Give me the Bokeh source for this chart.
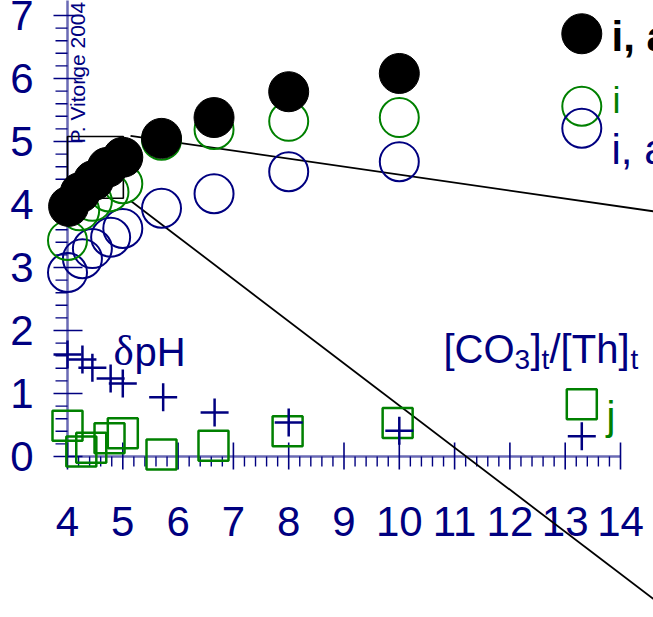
from bokeh.plotting import figure
from bokeh.models import Range1d
from bokeh.embed import file_html
from bokeh.resources import INLINE
from bokeh.core.properties import value
import numpy as np

# ---------------- data ----------------
x_black = [4.02, 4.23, 4.47, 4.72, 5.0, 5.7, 6.65, 8.0, 10.0]
y_black = [3.97, 4.19, 4.38, 4.59, 4.75, 5.05, 5.38, 5.79, 6.08]
x_green = [4.0, 4.22, 4.45, 4.75, 5.0, 5.7, 6.65, 8.0, 10.0]
y_green = [3.43, 3.90, 4.05, 4.20, 4.33, 5.02, 5.19, 5.32, 5.38]
x_blue = [4.0, 4.27, 4.45, 4.78, 5.0, 5.7, 6.65, 8.0, 10.0]
y_blue = [2.92, 3.14, 3.30, 3.48, 3.62, 3.94, 4.17, 4.52, 4.68]
x_dph = [4.0, 4.27, 4.45, 4.78, 5.0, 5.73, 6.66, 8.0, 10.0, 13.3]
y_dph = [1.62, 1.54, 1.41, 1.24, 1.16, 0.94, 0.70, 0.54, 0.41, 0.32]
x_j = [4.0, 4.25, 4.43, 4.76, 5.0, 5.7, 6.64, 7.98, 9.97, 13.3]
y_j = [0.49, 0.08, 0.14, 0.29, 0.37, 0.03, 0.17, 0.40, 0.53, 0.83]

# legend keys
legend_x = [13.3, 13.3, 13.3]
legend_y = [6.71, 5.56, 5.21]

# zoom box and magnifier lines (annotations)
box_x = [4.0, 5.01]
box_y = [4.10, 5.08]
line1_x = [5.14, 15.4]
line1_y = [5.09, 3.79]
line2_x = [5.14, 15.4]
line2_y = [4.06, -2.80]

x_ticks = list(range(4, 15))
y_ticks = list(range(0, 8))
x_tick_labels = [str(t) for t in x_ticks]
y_tick_labels = [str(t) for t in y_ticks]

# ---------------- geometry ----------------
W, H = 653, 617
PX, PY = 55.3, 63.0          # pixels per data unit
X0 = 4 - 67 / PX
Y1 = 456 / PY
X1 = X0 + W / PX
Y0 = Y1 - H / PY

NAVY = "#000080"
AXIS = "#6a6ab4"
GREEN = "#008000"
FONT = value("Liberation Sans")
SERIF = value("Liberation Serif")


def lx(px):
    return 4 + (px - 67) / PX


def ly(py):
    return (456 - py) / PY


p = figure(width=W, height=H, x_range=Range1d(X0, X1), y_range=Range1d(Y0, Y1),
           output_backend="svg", toolbar_location=None, min_border=0,
           x_axis_location=None, y_axis_location=None)
p.outline_line_color = None
p.background_fill_color = "white"
p.border_fill_color = "white"
p.grid.visible = False

# ---- hand-drawn axes ----
p.line([4, 14], [0, 0], line_color=AXIS, line_width=2.5)
p.line([4, 4], [0, Y1 + 1], line_color=AXIS, line_width=2.5)

xmin = [v for v in np.round(np.arange(4, 14.001, 0.2), 2) if abs(v - round(v)) > 1e-6]
ymin = [v for v in np.round(np.arange(0, 7.001, 0.2), 2) if abs(v - round(v)) > 1e-6]

p.segment(x0=x_ticks, y0=[14 / PY] * len(x_ticks), x1=x_ticks, y1=[-13 / PY] * len(x_ticks),
          line_color=NAVY, line_width=1.6)
p.segment(x0=xmin, y0=[0] * len(xmin), x1=xmin, y1=[-10 / PY] * len(xmin),
          line_color=NAVY, line_width=1.4)
p.segment(x0=[4 - 14 / PX] * len(y_ticks), y0=y_ticks, x1=[4 + 15 / PX] * len(y_ticks), y1=y_ticks,
          line_color=NAVY, line_width=1.6)
p.segment(x0=[4 - 12 / PX] * len(ymin), y0=ymin, x1=[4] * len(ymin), y1=ymin,
          line_color=NAVY, line_width=1.4)

p.text(x=x_ticks, y=[ly(521)] * len(x_ticks), text=x_tick_labels,
       text_font=FONT, text_font_size="42px", text_color=NAVY,
       text_align="center", text_baseline="middle")
p.text(x=[lx(33)] * len(y_ticks), y=y_ticks, text=y_tick_labels,
       text_font=FONT, text_font_size="42px", text_color=NAVY,
       text_align="right", text_baseline="middle")

# ---- annotations (box + lines) ----
p.quad(left=[box_x[0]], right=[box_x[1]], bottom=[box_y[0]], top=[box_y[1]],
       fill_color=None, line_color="black", line_width=1.6)
p.line(line1_x, line1_y, line_color="black", line_width=1.8)
p.line(line2_x, line2_y, line_color="black", line_width=1.8)

# author text
p.text(x=[lx(77)], y=[ly(143)], text=["P. Vitorge 2004"], angle=np.pi / 2,
       text_font=FONT, text_font_size="21px", text_color=NAVY,
       text_align="left", text_baseline="middle")

# ---- data markers ----
p.scatter(x_j, y_j, marker="square", size=30, fill_color=None, line_color=GREEN, line_width=2.5)
p.scatter(x_dph, y_dph, marker="cross", size=28, line_color=NAVY, line_width=2.5)
p.scatter(x_blue, y_blue, marker="circle", size=39, fill_color=None, line_color=NAVY, line_width=2)
p.scatter(x_green, y_green, marker="circle", size=39, fill_color=None, line_color=GREEN, line_width=2)
p.scatter(x_black, y_black, marker="circle", size=40, fill_color="black", line_color="black")

# ---- legend keys ----
p.scatter([legend_x[0]], [legend_y[0]], marker="circle", size=40, fill_color="black", line_color="black")
p.scatter([legend_x[1]], [legend_y[1]], marker="circle", size=39, fill_color=None, line_color=GREEN, line_width=2)
p.scatter([legend_x[2]], [legend_y[2]], marker="circle", size=39, fill_color=None, line_color=NAVY, line_width=2)

p.text(x=[lx(611)], y=[ly(36)], text=["i, aq"], text_font=FONT, text_font_size="42px",
       text_font_style="bold", text_color="black", text_baseline="middle")
p.text(x=[lx(612)], y=[ly(100)], text=["i"], text_font=FONT, text_font_size="36px",
       text_color=GREEN, text_baseline="middle")
p.text(x=[lx(611)], y=[ly(149)], text=["i, aq"], text_font=FONT, text_font_size="42px",
       text_color=NAVY, text_baseline="middle")

# δpH : serif delta followed by sans "pH"
p.text(x=[lx(113)], y=[ly(350)], text=["δ"], text_font=SERIF, text_font_size="43px",
       text_color=NAVY, text_baseline="middle")
p.text(x=[lx(134)], y=[ly(351)], text=["pH"], text_font=FONT, text_font_size="40px",
       text_color=NAVY, text_baseline="middle")
p.text(x=[lx(606)], y=[ly(415)], text=["j"], text_font=FONT, text_font_size="40px",
       text_color=GREEN, text_baseline="middle")

# [CO3]t/[Th]t composed of pieces (left edge px, visual centre px, size)
pieces = [("[CO", 443, 348, "40px"), ("3", 514, 359, "28px"), ("]", 530, 348, "40px"),
          ("t", 541, 359, "28px"), ("/[Th]", 549, 348, "40px"), ("t", 630, 359, "28px")]
for txt, px, py, fs in pieces:
    p.text(x=[lx(px)], y=[ly(py)], text=[txt], text_font=FONT, text_font_size=fs,
           text_color=NAVY, text_baseline="middle")

open("out.html", "w").write(file_html(p, INLINE))
